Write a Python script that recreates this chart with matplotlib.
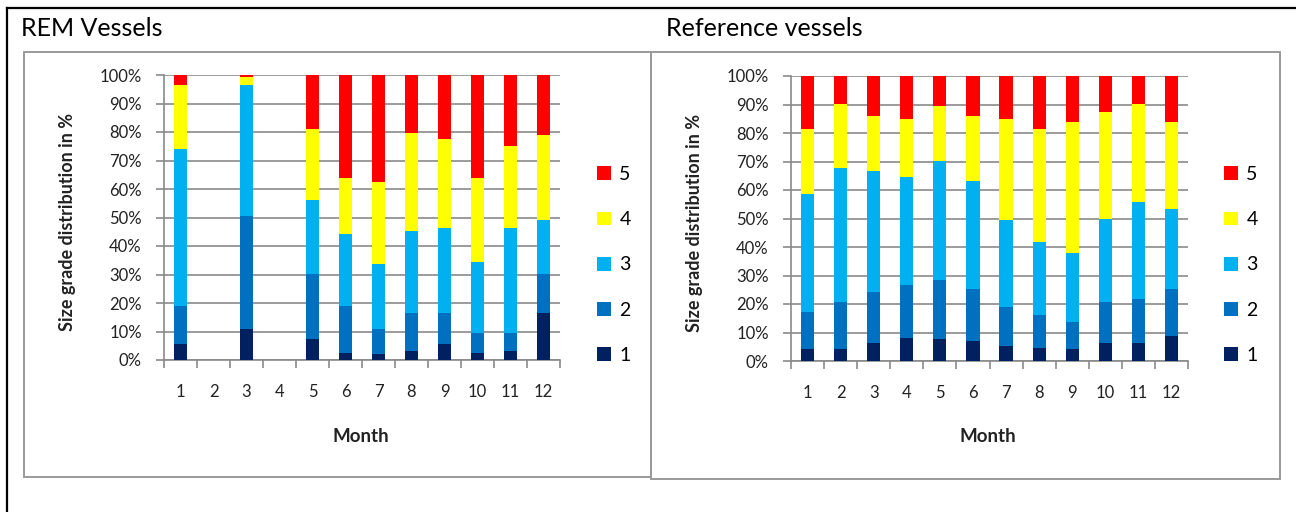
import matplotlib
matplotlib.use("Agg")
import matplotlib.pyplot as plt
from matplotlib.patches import Rectangle, Patch
from matplotlib.lines import Line2D
import numpy as np

plt.rcParams['font.family'] = ['Lato', 'DejaVu Sans']

months = [1, 2, 3, 4, 5, 6, 7, 8, 9, 10, 11, 12]
grades = ["1", "2", "3", "4", "5"]
colors = ["#002060", "#0070C0", "#00B0F0", "#FFFF00", "#FF0000"]

# REM vessels (percent per size grade, by month; months 2 and 4 empty)
rem_g1 = [5.5, 0, 10.8, 0, 7.3, 2.6, 2.0, 3.2, 5.5, 2.6, 3.2, 16.4]
rem_g2 = [13.3, 0, 39.6, 0, 22.9, 16.2, 8.8, 13.2, 10.9, 6.8, 6.2, 13.8]
rem_g3 = [55.3, 0, 46.0, 0, 25.8, 25.4, 23.0, 28.7, 29.9, 24.9, 36.9, 19.0]
rem_g4 = [22.3, 0, 2.9, 0, 24.9, 19.5, 28.7, 34.6, 31.1, 29.4, 28.7, 29.8]
rem_g5 = [3.6, 0, 0.7, 0, 19.1, 36.3, 37.5, 20.3, 22.6, 36.3, 25.0, 21.0]

# Reference vessels
ref_g1 = [4.1, 4.1, 6.4, 8.2, 7.6, 7.0, 5.3, 4.7, 4.1, 6.4, 6.4, 8.8]
ref_g2 = [13.2, 16.7, 17.8, 18.3, 20.7, 18.4, 13.7, 11.4, 9.7, 14.4, 15.4, 16.6]
ref_g3 = [41.2, 47.0, 42.4, 37.9, 41.8, 37.8, 30.4, 25.8, 24.2, 29.2, 33.9, 28.0]
ref_g4 = [23.0, 22.5, 19.5, 20.6, 19.5, 22.9, 35.5, 39.6, 45.8, 37.3, 34.5, 30.4]
ref_g5 = [18.5, 9.7, 13.9, 15.0, 10.4, 13.9, 15.1, 18.5, 16.2, 12.7, 9.8, 16.2]

W, H = 1296, 512
fig = plt.figure(figsize=(W / 100, H / 100), dpi=100)


def fx(x):
    return x / W


def fy(y):
    return 1 - y / H


# outer black border (top and left)
fig.add_artist(Line2D([fx(7), 1], [fy(8), fy(8)], color="black", lw=1.6, transform=fig.transFigure))
fig.add_artist(Line2D([fx(7), fx(7)], [fy(8), 0], color="black", lw=1.6, transform=fig.transFigure))

# chart frames
for (x0, y0, x1, y1) in [(24, 52, 651, 477), (651, 52, 1280, 479)]:
    fig.add_artist(Rectangle((fx(x0), fy(y1)), fx(x1) - fx(x0), fy(y0) - fy(y1),
                             fill=False, edgecolor="#999999", lw=1.4, transform=fig.transFigure))

fig.text(fx(21), fy(29), "REM Vessels", fontsize=18, va="center", ha="left", color="black")
fig.text(fx(666), fy(29), "Reference vessels", fontsize=18, va="center", ha="left", color="black")


def draw(axrect, data, legend_x, ylabel_x, month_x):
    x0, y0, x1, y1 = axrect
    ax = fig.add_axes([fx(x0), fy(y1), fx(x1) - fx(x0), fy(y0) - fy(y1)])
    bottom = np.zeros(len(months))
    handles = []
    for vals, c, g in zip(data, colors, grades):
        v = np.array(vals, dtype=float)
        ax.bar(months, v, width=0.4, bottom=bottom, color=c, edgecolor="none", zorder=3)
        bottom += v
        handles.append(Patch(facecolor=c, edgecolor="none", label=g))
    ax.set_xlim(0.5, 12.5)
    ax.set_ylim(0, 100)
    ax.set_yticks(np.arange(0, 101, 10))
    ax.set_yticklabels([f"{t}%" for t in range(0, 101, 10)], fontsize=12, color="#222222")
    ax.yaxis.grid(True, color="#8a8a8a", lw=1.2, zorder=0)
    ax.set_xticks(months)
    ax.set_xticklabels([str(m) for m in months], fontsize=12, color="#222222")
    ax.set_xticks(np.arange(0.5, 13, 1), minor=True)
    ax.tick_params(axis="x", which="major", length=0, pad=17)
    ax.tick_params(axis="x", which="minor", length=6, color="#8a8a8a", width=1.2)
    ax.tick_params(axis="y", length=6, color="#8a8a8a", width=1.2, pad=10)
    for s in ["top", "right"]:
        ax.spines[s].set_visible(False)
    for s in ["left", "bottom"]:
        ax.spines[s].set_color("#8a8a8a")
        ax.spines[s].set_linewidth(1.2)
    fig.text(fx(ylabel_x), fy((y0 + y1) / 2 + 4), "Size grade distribution in %", rotation=90,
             fontsize=13, fontweight="bold", ha="center", va="center", color="#222222")
    fig.text(fx(month_x), fy(437), "Month", fontsize=13.5, fontweight="bold",
             ha="center", va="center", color="#222222")
    fig.legend(handles=handles[::-1], loc="center left",
               bbox_to_anchor=(fx(legend_x), fy(265)), frameon=False,
               fontsize=14, handlelength=0.7, handleheight=0.7,
               labelspacing=1.45, handletextpad=0.45, borderpad=0, borderaxespad=0)
    return ax


draw((164, 75, 560, 360), [rem_g1, rem_g2, rem_g3, rem_g4, rem_g5], 597, 68, 361)
draw((791, 76, 1188, 361), [ref_g1, ref_g2, ref_g3, ref_g4, ref_g5], 1224, 694, 988)

fig.savefig("out.png", dpi=100)
